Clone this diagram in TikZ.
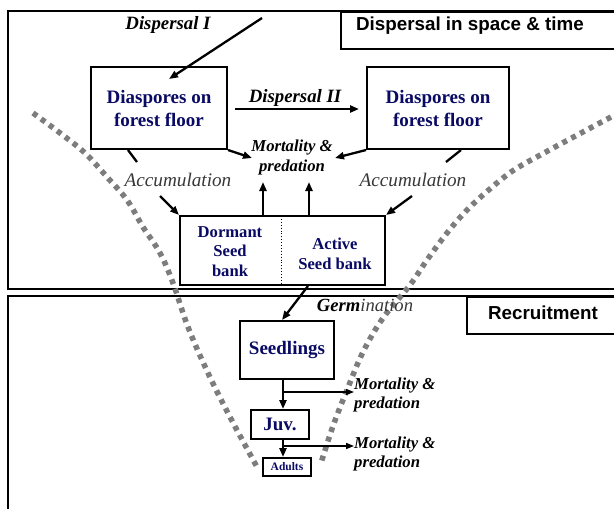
\documentclass[tikz,border=0pt]{standalone}
\usepackage{fontspec}
\setmainfont{Liberation Serif}
\newfontfamily\headfont{Liberation Sans}
\usetikzlibrary{arrows.meta}
\definecolor{navy}{RGB}{10,10,100}
\definecolor{dotgray}{RGB}{125,125,125}
\definecolor{accgray}{RGB}{55,55,55}
\begin{document}
\begin{tikzpicture}[x=1pt,y=-1pt,
  frame/.style={draw=black,line width=2pt},
  box/.style={draw,line width=2pt,fill=white,inner sep=0pt,align=center,text=navy,font=\bfseries\fontsize{19}{23}\selectfont},
  sbtext/.style={inner sep=0pt,align=center,text=navy,font=\bfseries\fontsize{16.6}{19.5}\selectfont},
  head/.style={inner sep=0pt,font=\headfont\bfseries\fontsize{18.8}{22}\selectfont},
  lab/.style={inner sep=0pt,align=center,font=\bfseries\itshape\fontsize{18.8}{22}\selectfont},
  mort/.style={inner sep=0pt,align=center,font=\bfseries\itshape\fontsize{16.7}{19.5}\selectfont},
  acc/.style={inner sep=0pt,text=accgray,font=\itshape\fontsize{19.2}{22}\selectfont},
  arr/.style={line width=2.3pt,-{Triangle[length=9pt,width=7pt]}},
  thinarr/.style={line width=1.5pt,-{Triangle[length=8pt,width=6pt]}},
  plain/.style={line width=2.3pt},
  vdots/.style={dotgray,line width=5.5pt,dash pattern=on 5pt off 5pt}
]
\useasboundingbox (0,0) rectangle (614,509);
\clip (0,0) rectangle (614,509);

% frames
\draw[frame] (8,530) -- (8,296) -- (630,296);
\draw[frame] (630,11) -- (8,11) -- (8,289) -- (630,289);
\node[draw,line width=2pt,minimum width=290pt,minimum height=37pt,anchor=north west,inner sep=0pt] (T) at (340,11) {};
\node[head] (Ttext) at (470,26) {Dispersal in space \& time};
\node[draw,line width=2pt,minimum width=160pt,minimum height=37pt,anchor=north west,inner sep=0pt] (R) at (466,296) {};
\node[head] (Rtext) at (543,313) {Recruitment};

% dotted funnel
\draw[vdots] plot[smooth,tension=0.6] coordinates {(33,113) (60,133) (85,153) (107,177) (127,200) (143,227) (160,253) (173,283) (188,327) (208,373) (230,417) (257,467)};
\draw[vdots] plot[smooth,tension=0.6] coordinates {(611,117) (581,133) (544,153) (514,170) (491,188) (467,210) (447,233) (427,260) (410,285) (383,318) (363,352) (347,390) (333,426) (321,463)};

% boxes
\node[box,minimum width=136pt,minimum height=82pt] (L) at (159,108) {Diaspores on\\forest floor};
\node[box,minimum width=142pt,minimum height=82pt] (Rt) at (438,108) {Diaspores on\\forest floor};
\node[box,minimum width=205pt,minimum height=69pt] (SB) at (282.5,250.5) {};
\draw[line width=0.9pt,dotted] (281,216) -- (281,285);
\node[sbtext] (dorm) at (230,251.5) {Dormant\\Seed\\bank};
\node[sbtext] (act) at (335,254) {Active\\Seed bank};
\node[box,minimum width=94pt,minimum height=58pt] (S) at (287,350) {Seedlings};
\node[box,minimum width=58pt,minimum height=29pt] (J) at (280,424.5) {Juv.};
\node[box,minimum width=48pt,minimum height=18pt,font=\bfseries\fontsize{11.5}{12}\selectfont] (A) at (287,467) {\raisebox{-3pt}{Adults}};

% labels
\node[lab] (d1) at (168,25) {Dispersal I};
\node[lab] (d2) at (295,98) {Dispersal II};
\node[mort] (m0) at (292,157.5) {Mortality \&\\predation};
\node[acc] (accL) at (178,180) {Accumulation};
\node[acc] (accR) at (413,180) {Accumulation};
\node[inner sep=0pt,font=\fontsize{18.6}{22}\selectfont] (germ) at (365,305) {\textbf{\itshape Germ}{\itshape\color{accgray}ination}};
\node[mort,align=left,anchor=west] (m1) at (354,395) {Mortality \&\\predation};
\node[mort,align=left,anchor=west] (m2) at (354,454) {Mortality \&\\predation};

% connectors
\coordinate (d1s) at (262,18);
\draw[arr] (d1s) -- ([xshift=10pt,yshift=-13pt]L.north);
\draw[arr] ([xshift=7pt]L.east |- 0,109) -- ([xshift=-7pt]Rt.west |- 0,109);
\draw[arr] (L.south east) -- (252,158);
\draw[arr] (Rt.south west) -- (335,158);
\draw[plain] ([xshift=-31pt]L.south) -- (137,162);
\draw[arr] (160,196) -- (SB.north west);
\draw[plain] ([xshift=23pt]Rt.south) -- (446,162);
\draw[arr] (412,196) -- (SB.north east);
\draw[arr] (SB.north -| 263,0) -- (263,182);
\draw[arr] (SB.north -| 309,0) -- (309,182);
\draw[arr] (SB.south -| 308,0) -- (S.north -| 282,0);
\draw[arr] (S.south -| 283,0) -- (J.north -| 283,0);
\draw[thinarr] (283,392) -- (m1.west |- 0,392);
\draw[arr] (J.south -| 283,0) -- (A.north -| 283,0);
\draw[thinarr] (283,446) -- (m2.west |- 0,446);
\end{tikzpicture}
\end{document}
